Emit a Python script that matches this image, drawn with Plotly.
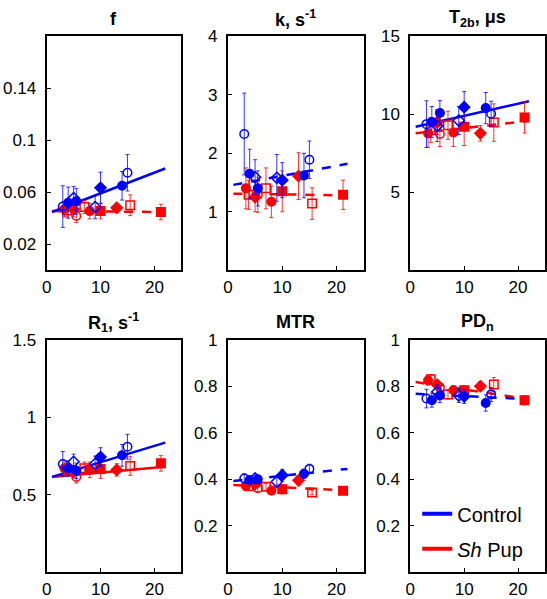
import plotly.graph_objects as go

BLUE = "#0000ff"
RED = "#ff0000"

# ---------------- data ----------------
ctrl_x = [3, 4, 5, 5.5, 9, 10, 14, 15]
ctrl_sym = ["circle-open", "circle", "diamond-open", "circle", "diamond-open", "diamond", "circle", "circle-open"]
sh_x = [3.3, 3.8, 5, 5.5, 7, 8, 10, 13, 15.5, 21.2]
sh_sym = ["circle", "square-open", "diamond", "circle-open", "square-open", "circle", "square", "diamond", "square-open", "square"]

titles = ["<b>f</b>", "<b>k, s<sup>-1</sup></b>", "<b>T<sub>2b</sub>, \u03bcs</b>",
          "<b>R<sub>1</sub>, s<sup>-1</sup></b>", "<b>MTR</b>", "<b>PD<sub>n</sub></b>"]

f_ctrl = [0.049, 0.052, 0.0555, 0.053, 0.0486, 0.0635, 0.065, 0.075]
f_ctrl_err = [0.016, 0.012, 0.009, 0.010, 0.009, 0.012, 0.011, 0.014]
f_sh = [0.047, 0.046, 0.047, 0.0417, 0.0486, 0.0455, 0.0455, 0.048, 0.050, 0.0448]
f_sh_err = [0.006, 0.005, 0.006, 0.005, 0.005, 0.006, 0.006, 0.003, 0.008, 0.006]

k_ctrl = [2.33, 1.65, 1.59, 1.40, 1.58, 1.54, 1.62, 1.89]
k_ctrl_err = [0.70, 0.42, 0.30, 0.30, 0.40, 0.30, 0.38, 0.32]
k_sh = [1.40, 1.29, 1.25, 1.29, 1.40, 1.17, 1.35, 1.61, 1.14, 1.29]
k_sh_err = [0.35, 0.25, 0.25, 0.30, 0.35, 0.27, 0.35, 0.40, 0.27, 0.25]

t2_ctrl = [9.37, 9.5, 9.26, 10.08, 9.6, 10.46, 10.4, 10.04]
t2_ctrl_err = [1.5, 1.0, 1.0, 0.8, 0.9, 1.0, 1.0, 0.8]
t2_sh = [8.78, 9.0, 9.5, 8.74, 9.3, 8.84, 9.2, 8.78, 9.47, 9.8]
t2_sh_err = [0.9, 0.8, 0.8, 0.8, 0.9, 0.9, 1.2, 0.5, 1.2, 1.0]

r1_ctrl = [0.699, 0.67, 0.713, 0.655, 0.70, 0.744, 0.755, 0.81]
r1_ctrl_err = [0.08, 0.05, 0.05, 0.05, 0.05, 0.06, 0.07, 0.08]
r1_sh = [0.672, 0.66, 0.65, 0.616, 0.672, 0.661, 0.666, 0.661, 0.686, 0.703]
r1_sh_err = [0.04, 0.04, 0.04, 0.04, 0.04, 0.05, 0.06, 0.04, 0.06, 0.05]

mtr_ctrl = [0.404, 0.397, 0.404, 0.40, 0.39, 0.418, 0.424, 0.445]
mtr_ctrl_err = [0.02, 0.015, 0.015, 0.015, 0.02, 0.025, 0.02, 0.02]
mtr_sh = [0.372, 0.37, 0.38, 0.362, 0.368, 0.351, 0.358, 0.396, 0.344, 0.351]
mtr_sh_err = [0.015, 0.015, 0.015, 0.015, 0.015, 0.015, 0.02, 0.02, 0.01, 0.015]

pd_ctrl = [0.747, 0.74, 0.776, 0.76, 0.76, 0.756, 0.728, 0.765]
pd_ctrl_err = [0.04, 0.03, 0.03, 0.03, 0.03, 0.03, 0.035, 0.03]
pd_sh = [0.825, 0.83, 0.806, 0.795, 0.765, 0.783, 0.783, 0.80, 0.807, 0.74]
pd_sh_err = [0.02, 0.02, 0.02, 0.02, 0.02, 0.02, 0.02, 0.02, 0.03, 0.02]

# regression lines (value at x=1 and x=22)
fit_x = [1, 22]
ctrl_fit = [[0.0448, 0.0783], [1.46, 1.82], [9.2, 10.84], [0.616, 0.837], [0.393, 0.445], [0.768, 0.744]]
sh_fit = [[0.0455, 0.0448], [1.31, 1.28], [8.78, 9.58], [0.616, 0.682], [0.376, 0.352], [0.818, 0.744]]
ctrl_dash = ["solid", "dash", "solid", "solid", "dash", "dash"]
sh_dash = ["dash", "dash", "dash", "solid", "dash", "dash"]

y_ranges = [[0, 0.18], [0, 4], [0, 15], [0, 1.5], [0, 1], [0, 1]]
y_ticks = [[0.02, 0.06, 0.1, 0.14], [1, 2, 3, 4], [5, 10, 15], [0.5, 1, 1.5],
           [0.2, 0.4, 0.6, 0.8, 1], [0.2, 0.4, 0.6, 0.8, 1]]
x_ticks = [0, 10, 20]

ctrl_vals = [(f_ctrl, f_ctrl_err), (k_ctrl, k_ctrl_err), (t2_ctrl, t2_ctrl_err),
             (r1_ctrl, r1_ctrl_err), (mtr_ctrl, mtr_ctrl_err), (pd_ctrl, pd_ctrl_err)]
sh_vals = [(f_sh, f_sh_err), (k_sh, k_sh_err), (t2_sh, t2_sh_err),
           (r1_sh, r1_sh_err), (mtr_sh, mtr_sh_err), (pd_sh, pd_sh_err)]

# ---------------- layout geometry ----------------
W, H = 547, 599
col_px = [(42, 178), (225, 362), (409, 545)]
row_px = [(28, 267), (338, 576)]

fig = go.Figure()
FONT = "Liberation Sans, Arial, sans-serif"

for i in range(6):
    r, c = divmod(i, 3)
    ax = "" if i == 0 else str(i + 1)
    xa, ya = "x" + ax, "y" + ax
    # regression lines
    fig.add_trace(go.Scatter(x=fit_x, y=sh_fit[i], mode="lines", xaxis=xa, yaxis=ya,
                             line=dict(color=RED, width=2.5, dash=sh_dash[i]), showlegend=False,
                             hoverinfo="skip"))
    fig.add_trace(go.Scatter(x=fit_x, y=ctrl_fit[i], mode="lines", xaxis=xa, yaxis=ya,
                             line=dict(color=BLUE, width=2.5, dash=ctrl_dash[i]), showlegend=False,
                             hoverinfo="skip"))
    # points
    v, e = sh_vals[i]
    fig.add_trace(go.Scatter(x=sh_x, y=v, mode="markers", xaxis=xa, yaxis=ya, showlegend=False,
                             error_y=dict(type="data", array=e, color=RED, thickness=0.8, width=2),
                             marker=dict(symbol=sh_sym, size=8.5, color=RED,
                                         line=dict(color=RED, width=1.5))))
    v, e = ctrl_vals[i]
    fig.add_trace(go.Scatter(x=ctrl_x, y=v, mode="markers", xaxis=xa, yaxis=ya, showlegend=False,
                             error_y=dict(type="data", array=e, color=BLUE, thickness=0.8, width=2),
                             marker=dict(symbol=ctrl_sym, size=8.5, color=BLUE,
                                         line=dict(color=BLUE, width=1.5))))

    x0, x1 = col_px[c]
    y0, y1 = row_px[r]
    common = dict(showline=True, linecolor="black", linewidth=2, mirror=True,
                  ticks="inside", ticklen=4, tickcolor="black", showgrid=False, zeroline=False,
                  tickfont=dict(family=FONT, size=17, color="black"))
    fig.update_layout(**{
        ("xaxis" + ax): dict(domain=[x0 / W, x1 / W], range=[0, 25], tickvals=x_ticks,
                             anchor=ya, **common),
        ("yaxis" + ax): dict(domain=[1 - y1 / H, 1 - y0 / H], range=y_ranges[i],
                             tickvals=y_ticks[i], ticktext=[("%g" % t) for t in y_ticks[i]],
                             anchor=xa, ticklabelstandoff=5, **common),
    })
    fig.add_annotation(text=titles[i], x=(x0 + x1) / 2 / W, y=1 - (10 if r == 0 else 320) / H,
                       xref="paper", yref="paper", showarrow=False,
                       font=dict(family=FONT, size=18, color="black"), xanchor="center", yanchor="middle")

# legend traces
fig.add_trace(go.Scatter(x=[None], y=[None], mode="lines", name="Control", legendgroup="a",
                         line=dict(color=BLUE, width=4), xaxis="x6", yaxis="y6"))
fig.add_trace(go.Scatter(x=[None], y=[None], mode="lines", name="<i>Sh</i> Pup", legendgroup="b",
                         line=dict(color=RED, width=4), xaxis="x6", yaxis="y6"))

fig.update_layout(
    width=W, height=H, margin=dict(l=0, r=0, t=0, b=0),
    paper_bgcolor="white", plot_bgcolor="white",
    showlegend=True,
    legend=dict(x=416 / W, y=1 - 496 / H, xanchor="left", yanchor="top",
                font=dict(family=FONT, size=20, color="black"), bgcolor="rgba(0,0,0,0)",
                traceorder="grouped", tracegroupgap=6),
)

fig.write_html("out.html", config={"displayModeBar": False},
               post_script="document.body.style.margin='0';document.body.style.padding='0';"
                           "document.body.style.overflow='hidden';")
